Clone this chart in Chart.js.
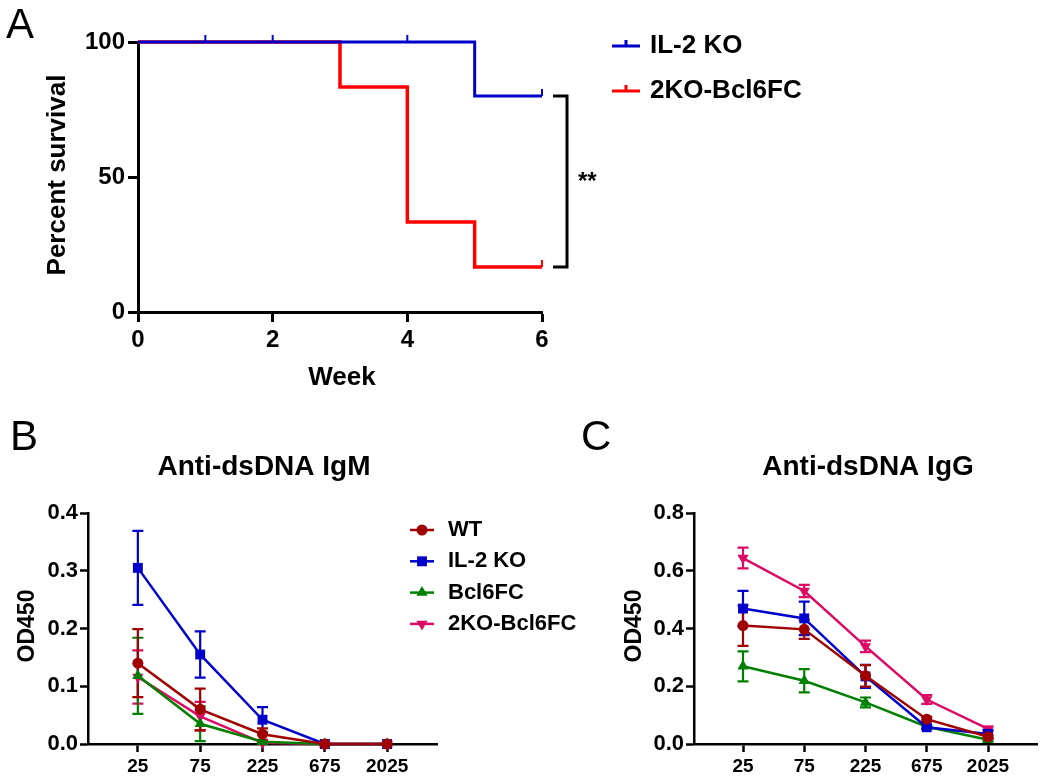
<!DOCTYPE html>
<html>
<head>
<meta charset="utf-8">
<title>Survival and anti-dsDNA antibodies</title>
<script src="https://cdn.jsdelivr.net/npm/chart.js@4.4.1/dist/chart.umd.min.js"></script>
<style>
  html, body { margin: 0; padding: 0; background: #fff; }
  #page { position: relative; width: 1050px; height: 779px; overflow: hidden; background: #fff; }
  canvas { position: absolute; }
  #chart-a { left: 0; top: 0; }
  #chart-b { left: 0; top: 400px; }
  #chart-c { left: 525px; top: 400px; }
</style>
</head>
<body>
<div id="page">
  <canvas id="chart-a" width="1050" height="400"></canvas>
  <canvas id="chart-b" width="600" height="379"></canvas>
  <canvas id="chart-c" width="525" height="379"></canvas>
</div>
<script>
// --- Panel A data (Kaplan-Meier) ---
const survivalGroups = ["IL-2 KO", "2KO-Bcl6FC"];
const il2Weeks = [0, 5, 6];
const il2Survival = [100, 80, 80];
const il2CensorWeeks = [1, 2, 4, 6];
const il2CensorSurvival = [100, 100, 100, 80];
const bclWeeks = [0, 3, 4, 5, 6];
const bclSurvival = [100, 83.33, 33.33, 16.67, 16.67];
const bclCensorWeeks = [6];
const bclCensorSurvival = [16.67];
const weekTicks = [0, 2, 4, 6];
const survivalTicks = [0, 50, 100];
const significance = "**";

// --- Panels B / C data (ELISA) ---
const groups = ["WT", "IL-2 KO", "Bcl6FC", "2KO-Bcl6FC"];
const dilutions = ["25", "75", "225", "675", "2025"];

const igmWT = [0.140, 0.060, 0.017, 0, 0];
const igmIL2 = [0.305, 0.155, 0.042, 0, 0];
const igmBcl = [0.118, 0.035, 0.004, 0, 0];
const igm2KO = [0.116, 0.048, 0.002, 0, 0];
const igmWTErr = [0.059, 0.036, 0.010, 0, 0];
const igmIL2Err = [0.064, 0.040, 0.022, 0, 0];
const igmBclErr = [0.066, 0.030, 0.002, 0, 0];
const igm2KOErr = [0.046, 0.025, 0.001, 0, 0];
const igmTicks = [0, 0.1, 0.2, 0.3, 0.4];

const iggWT = [0.410, 0.397, 0.236, 0.086, 0.025];
const iggIL2 = [0.469, 0.435, 0.234, 0.058, 0.035];
const iggBcl = [0.269, 0.219, 0.144, 0.060, 0.015];
const igg2KO = [0.644, 0.530, 0.338, 0.154, 0.052];
const iggWTErr = [0.070, 0.033, 0.037, 0.008, 0.006];
const iggIL2Err = [0.061, 0.058, 0.040, 0.006, 0.015];
const iggBclErr = [0.052, 0.040, 0.017, 0.005, 0.005];
const igg2KOErr = [0.036, 0.021, 0.020, 0.015, 0.008];
const iggTicks = [0, 0.2, 0.4, 0.6, 0.8];

// --- Styles ---
const FONT = "'Liberation Sans', Arial, Helvetica, sans-serif";
const survivalColors = ["#0000C8", "#FF0000"];
const groupColors = ["#A00000", "#0000CC", "#008000", "#DC0A64"];
const markerStyles = ["circle", "rect", "triangle", "triangle"];
const markerRotations = [0, 0, 0, 180];
const markerRadius = [5.5, 7, 6.5, 6.5];

Chart.defaults.font.family = FONT;
Chart.defaults.color = "#000";

// --- Helpers ---

function $(id) {
  return document.getElementById(id);
}

function xy(xs, ys) {
  return xs.map((x, i) => ({ x, y: ys[i] }));
}

function byIndex(values) {
  return values.map((v, i) => ({ x: i, y: v }));
}

function text(ctx, str, x, y, font, align, baseline, rotate) {
  ctx.save();
  ctx.font = font;
  ctx.fillStyle = "#000";
  ctx.textAlign = align || "center";
  ctx.textBaseline = baseline || "middle";
  ctx.translate(x, y);
  if (rotate) ctx.rotate(rotate);
  ctx.fillText(str, 0, 0);
  ctx.restore();
}

function drawMarker(ctx, style, rotation, x, y, r) {
  ctx.beginPath();
  if (style === "circle") {
    ctx.arc(x, y, r, 0, Math.PI * 2);
  } else if (style === "rect") {
    const s = r * Math.SQRT1_2;
    ctx.rect(x - s, y - s, 2 * s, 2 * s);
  } else {
    const dir = rotation === 180 ? -1 : 1;
    ctx.moveTo(x, y - dir * r);
    ctx.lineTo(x + r * 0.866, y + dir * r * 0.5);
    ctx.lineTo(x - r * 0.866, y + dir * r * 0.5);
    ctx.closePath();
  }
  ctx.fill();
}

function fixedTicks(values) {
  return scale => { scale.ticks = values.map(v => ({ value: v })); };
}

function axisStyle(width, tickLength) {
  return {
    grid: { drawOnChartArea: false, drawTicks: true, tickLength, tickWidth: width, tickColor: "#000" },
    border: { display: true, color: "#000", width }
  };
}

// --- Plugins ---

function errorBarPlugin(errSets) {
  return {
    id: "errorBars",
    beforeDatasetsDraw(chart) {
      const ctx = chart.ctx;
      const yScale = chart.scales.y;
      for (let d = chart.data.datasets.length - 1; d >= 0; d--) {
        const ds = chart.data.datasets[d];
        const meta = chart.getDatasetMeta(d);
        ctx.save();
        ctx.strokeStyle = ds.borderColor;
        ctx.lineWidth = 2.2;
        meta.data.forEach((pt, i) => {
          const e = errSets[d][i];
          if (!e) return;
          const v = ds.data[i].y;
          const top = yScale.getPixelForValue(v + e);
          const bot = yScale.getPixelForValue(v - e);
          ctx.beginPath();
          ctx.moveTo(pt.x, top); ctx.lineTo(pt.x, bot);
          ctx.moveTo(pt.x - 5.5, top); ctx.lineTo(pt.x + 5.5, top);
          ctx.moveTo(pt.x - 5.5, bot); ctx.lineTo(pt.x + 5.5, bot);
          ctx.stroke();
        });
        ctx.restore();
      }
    }
  };
}

function seriesLegend(chart, x, y0, dy) {
  const ctx = chart.ctx;
  chart.data.datasets.forEach((ds, i) => {
    const y = y0 + i * dy;
    ctx.save();
    ctx.strokeStyle = ds.borderColor;
    ctx.fillStyle = ds.backgroundColor;
    ctx.lineWidth = 2.5;
    ctx.beginPath();
    ctx.moveTo(x - 12, y); ctx.lineTo(x + 12, y);
    ctx.stroke();
    drawMarker(ctx, ds.pointStyle, ds.pointRotation, x, y, ds.pointRadius);
    ctx.restore();
    text(ctx, ds.label, x + 26, y, "bold 22px " + FONT, "left");
  });
}

const censorSets = [
  xy(il2CensorWeeks, il2CensorSurvival),
  xy(bclCensorWeeks, bclCensorSurvival)
];

const panelAPlugin = {
  id: "panelA",
  afterDatasetsDraw(chart) {
    const { ctx, scales: { x, y } } = chart;

    // censor ticks
    censorSets.forEach((set, d) => {
      ctx.save();
      ctx.strokeStyle = chart.data.datasets[d].borderColor;
      ctx.lineWidth = 2;
      set.forEach(p => {
        const px = x.getPixelForValue(p.x), py = y.getPixelForValue(p.y);
        ctx.beginPath();
        ctx.moveTo(px, py); ctx.lineTo(px, py - 7);
        ctx.stroke();
      });
      ctx.restore();
    });

    // legend
    chart.data.datasets.forEach((ds, i) => {
      const ly = 46 + i * 45;
      ctx.save();
      ctx.strokeStyle = ds.borderColor;
      ctx.lineWidth = 3;
      ctx.beginPath();
      ctx.moveTo(612, ly); ctx.lineTo(640, ly);
      ctx.moveTo(626, ly); ctx.lineTo(626, ly - 6);
      ctx.stroke();
      ctx.restore();
      text(ctx, ds.label, 650, ly, "bold 26px " + FONT, "left");
    });

    // significance bracket between the two end points
    const yTop = y.getPixelForValue(il2Survival[il2Survival.length - 1]);
    const yBot = y.getPixelForValue(bclSurvival[bclSurvival.length - 1]);
    ctx.save();
    ctx.strokeStyle = "#000";
    ctx.lineWidth = 3;
    ctx.beginPath();
    ctx.moveTo(553, yTop); ctx.lineTo(567, yTop); ctx.lineTo(567, yBot); ctx.lineTo(553, yBot);
    ctx.stroke();
    ctx.restore();
    text(ctx, significance, 578, (yTop + yBot) / 2 + 8, "bold 24px " + FONT, "left", "alphabetic");

    // titles
    text(ctx, "A", 6, 38, "42px " + FONT, "left", "alphabetic");
    text(ctx, "Percent survival", 58, 175, "bold 26px " + FONT, "center", "middle", -Math.PI / 2);
    text(ctx, "Week", 342, 378, "bold 26px " + FONT);
  }
};

// --- Charts ---

function initSurvivalChart() {
  const datasets = [
    { label: survivalGroups[0], data: xy(il2Weeks, il2Survival), borderColor: survivalColors[0], borderWidth: 3 },
    { label: survivalGroups[1], data: xy(bclWeeks, bclSurvival), borderColor: survivalColors[1], borderWidth: 3.5 }
  ].map(ds => Object.assign(ds, { stepped: "before", pointRadius: 0, fill: false, clip: false }));

  new Chart($("chart-a"), {
    type: "line",
    data: { datasets },
    options: {
      responsive: false,
      animation: false,
      devicePixelRatio: 1,
      events: [],
      layout: { padding: { left: 0, top: 42, right: 508, bottom: 0 } },
      plugins: { legend: { display: false }, tooltip: { enabled: false } },
      scales: {
        x: Object.assign({
          type: "linear", min: 0, max: 6,
          afterBuildTicks: fixedTicks(weekTicks),
          afterFit: s => { s.height = 88; },
          ticks: { font: { size: 24, weight: "bold" }, padding: 4, maxRotation: 0, autoSkip: false }
        }, axisStyle(3, 10)),
        y: Object.assign({
          type: "linear", min: 0, max: 100,
          afterBuildTicks: fixedTicks(survivalTicks),
          afterFit: s => { s.width = 138; },
          ticks: { font: { size: 24, weight: "bold" }, padding: 3, autoSkip: false }
        }, axisStyle(3, 10))
      }
    },
    plugins: [panelAPlugin]
  });
}

function elisaChart(id, series, errs, yTicks, decorate) {
  const datasets = series.map((vals, i) => ({
    label: groups[i],
    data: byIndex(vals),
    borderColor: groupColors[i],
    backgroundColor: groupColors[i],
    borderWidth: 2.5,
    pointStyle: markerStyles[i],
    pointRotation: markerRotations[i],
    pointRadius: markerRadius[i],
    pointBorderWidth: 0,
    fill: false,
    clip: false
  }));

  return new Chart($(id), {
    type: "line",
    data: { datasets },
    options: {
      responsive: false,
      animation: false,
      devicePixelRatio: 1,
      events: [],
      layout: { padding: decorate.padding },
      plugins: { legend: { display: false }, tooltip: { enabled: false } },
      scales: {
        x: Object.assign({
          type: "linear", min: -0.8, max: dilutions.length - 0.2,
          afterBuildTicks: fixedTicks(dilutions.map((_, i) => i)),
          afterFit: s => { s.height = 35; },
          ticks: { callback: v => dilutions[v], font: { size: 19, weight: "bold" }, padding: 3, maxRotation: 0, autoSkip: false }
        }, axisStyle(2.5, 8)),
        y: Object.assign({
          type: "linear", min: 0, max: yTicks[yTicks.length - 1],
          afterBuildTicks: fixedTicks(yTicks),
          afterFit: s => { s.width = decorate.yWidth; },
          ticks: { callback: v => v.toFixed(1), font: { size: 22, weight: "bold" }, padding: 2, autoSkip: false }
        }, axisStyle(2.5, 8))
      }
    },
    plugins: [errorBarPlugin(errs), { id: "decor", afterDraw: decorate.draw }]
  });
}

function initElisaCharts() {
  elisaChart("chart-b", [igmWT, igmIL2, igmBcl, igm2KO], [igmWTErr, igmIL2Err, igmBclErr, igm2KOErr], igmTicks, {
    padding: { left: 0, top: 113, right: 163, bottom: 0 },
    yWidth: 88,
    draw(chart) {
      const ctx = chart.ctx;
      text(ctx, "B", 10, 50, "42px " + FONT, "left", "alphabetic");
      text(ctx, "Anti-dsDNA IgM", 264, 75, "bold 28px " + FONT, "center", "alphabetic");
      text(ctx, "OD450", 28, 226, "bold 23px " + FONT, "center", "middle", -Math.PI / 2);
      seriesLegend(chart, 422, 130, 31.3);
    }
  });

  elisaChart("chart-c", [iggWT, iggIL2, iggBcl, igg2KO], [iggWTErr, iggIL2Err, iggBclErr, igg2KOErr], iggTicks, {
    padding: { left: 0, top: 113, right: 13, bottom: 0 },
    yWidth: 169,
    draw(chart) {
      const ctx = chart.ctx;
      text(ctx, "C", 56, 50, "42px " + FONT, "left", "alphabetic");
      text(ctx, "Anti-dsDNA IgG", 343, 75, "bold 28px " + FONT, "center", "alphabetic");
      text(ctx, "OD450", 110, 226, "bold 23px " + FONT, "center", "middle", -Math.PI / 2);
    }
  });
}

// --- Init ---

initSurvivalChart();
initElisaCharts();
</script>
</body>
</html>
